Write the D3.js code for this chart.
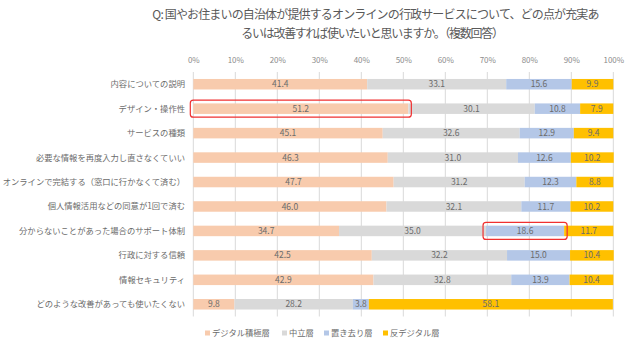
<!DOCTYPE html>
<html><head><meta charset="utf-8">
<script src="https://cdn.jsdelivr.net/npm/d3@7"></script>
<style>
html,body{margin:0;padding:0;background:#fff;}
svg{display:block;font-family:"Noto Sans CJK JP","Noto Sans",sans-serif;}
</style></head>
<body><svg id="c" width="640" height="346"></svg>
<script>
const titleLines = ["Q: 国やお住まいの自治体が提供するオンラインの行政サービスについて、どの点が充実あ","るいは改善すれば使いたいと思いますか。（複数回答）"];
const categories = ["内容についての説明","デザイン・操作性","サービスの種類","必要な情報を再度入力し直さなくていい","オンラインで完結する（窓口に行かなくて済む）","個人情報活用などの同意が1回で済む","分からないことがあった場合のサポート体制","行政に対する信頼","情報セキュリティ","どのような改善があっても使いたくない"];
const seriesNames = ["デジタル積極層","中立層","置き去り層","反デジタル層"];
const seriesColors = ["#F8CBAD","#D9D9D9","#B4C7E7","#FFC000"];
const sekkyoku = [41.4,51.2,45.1,46.3,47.7,46.0,34.7,42.5,42.9,9.8];
const chuuritsu = [33.1,30.1,32.6,31.0,31.2,32.1,35.0,32.2,32.8,28.2];
const okizari = [15.6,10.8,12.9,12.6,12.3,11.7,18.6,15.0,13.9,3.8];
const han = [9.9,7.9,9.4,10.2,8.8,10.2,11.7,10.4,10.4,58.1];
const tickValues = [0,10,20,30,40,50,60,70,80,90,100];
const highlights = [{cat:"デザイン・操作性", s:0},{cat:"分からないことがあった場合のサポート体制", s:2}];

const svg = d3.select("#c");
const x = d3.scaleLinear().domain([0,100]).range([193.3,613.3]);
const y = d3.scaleBand().domain(categories).range([72,316.5]).paddingInner(0.57).paddingOuter(0.285);

// title
svg.append("text").attr("x",375.5).attr("y",19).attr("text-anchor","middle")
  .attr("font-size",12).attr("letter-spacing",-0.85).attr("fill","#595959").text(titleLines[0]);
svg.append("text").attr("x",372).attr("y",37.5).attr("text-anchor","middle")
  .attr("font-size",12).attr("letter-spacing",-1.3).attr("fill","#595959").text(titleLines[1]);

// gridlines
svg.append("g").selectAll("line").data(tickValues).join("line")
  .attr("x1",d=>x(d)).attr("x2",d=>x(d)).attr("y1",72).attr("y2",316.5)
  .attr("stroke","#D9D9D9").attr("stroke-width",1);

// top axis
const ax = svg.append("g").attr("transform","translate(0,63)")
  .call(d3.axisTop(x).tickValues(tickValues).tickFormat(d=>d+"%").tickSize(0).tickPadding(0));
ax.select(".domain").remove();
ax.selectAll("text").attr("font-size",8).attr("fill","#8c8c8c").attr("font-family","'Noto Sans CJK JP',sans-serif");

// stack
const rows = categories.map((c,i)=>({cat:c, v:[sekkyoku[i],chuuritsu[i],okizari[i],han[i]]}));
const segs = [];
rows.forEach(r=>{let acc=0; r.v.forEach((v,s)=>{segs.push({cat:r.cat,s,x0:acc,x1:acc+v,v}); acc+=v;});});

svg.append("g").selectAll("rect").data(segs).join("rect")
  .attr("x",d=>x(d.x0)).attr("width",d=>x(d.x1)-x(d.x0))
  .attr("y",d=>y(d.cat)).attr("height",y.bandwidth())
  .attr("fill",d=>seriesColors[d.s]);

svg.append("g").selectAll("text").data(segs).join("text")
  .attr("x",d=>(x(d.x0)+x(d.x1))/2).attr("y",d=>y(d.cat)+y.bandwidth()/2)
  .attr("dy","0.36em").attr("text-anchor","middle").attr("font-size",8.5)
  .attr("fill","#6b6b6b").text(d=>d.v.toFixed(1));

// category labels
svg.append("g").selectAll("text").data(categories).join("text")
  .attr("x",185).attr("y",d=>y(d)+y.bandwidth()/2).attr("dy","0.36em")
  .attr("text-anchor","end").attr("font-size",8.3).attr("fill","#6b6b6b").text(d=>d);

// highlight boxes
svg.append("g").selectAll("rect").data(highlights).join("rect")
  .attr("x",d=>{const s=segs.find(g=>g.cat===d.cat&&g.s===d.s);return x(s.x0)-3;})
  .attr("width",d=>{const s=segs.find(g=>g.cat===d.cat&&g.s===d.s);return x(s.x1)-x(s.x0)+6;})
  .attr("y",d=>y(d.cat)+y.bandwidth()/2-8.5).attr("height",17)
  .attr("rx",3).attr("fill","none").attr("stroke","#F03030").attr("stroke-width",1.2);

// legend
const legX = [205,282,324,383];
const lg = svg.append("g").selectAll("g").data(seriesNames).join("g")
  .attr("transform",(d,i)=>`translate(${legX[i]},333)`);
lg.append("rect").attr("x",0).attr("y",-2.5).attr("width",5).attr("height",5).attr("fill",(d,i)=>seriesColors[i]);
lg.append("text").attr("x",7).attr("dy","0.36em").attr("font-size",8.3).attr("fill","#6b6b6b").text(d=>d);
</script></body></html>
